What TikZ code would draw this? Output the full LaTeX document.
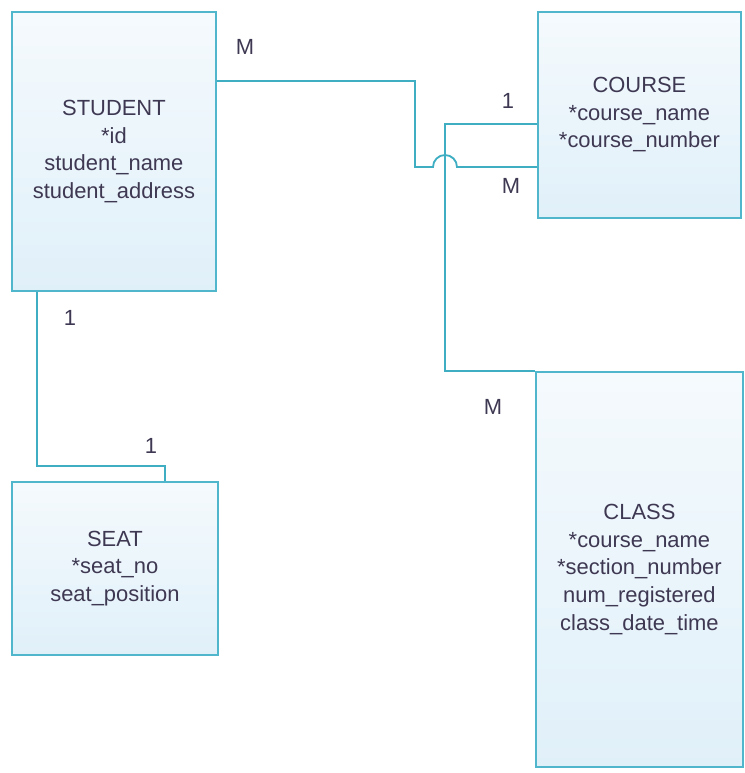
\documentclass[tikz,border=0pt]{standalone}
\usepackage{fontspec}
\setmainfont{Liberation Sans}
\usepackage{xcolor}
\usepackage{tikz}
\usetikzlibrary{calc,positioning}
\definecolor{edgec}{HTML}{4FB6CB}
\definecolor{linec}{HTML}{3FAEC2}
\definecolor{topc}{HTML}{F5FAFD}
\definecolor{botc}{HTML}{E0F0F9}
\definecolor{txtc}{HTML}{3E3852}
\tikzset{
  ent/.style={draw=edgec,line width=1.3pt,top color=topc,bottom color=botc,align=center,
    anchor=north west,inner sep=0pt,text=txtc,font=\fontsize{15.6}{19.6}\selectfont},
  lnk/.style={linec,line width=1.3pt},
  card/.style={text=txtc,font=\fontsize{15.6}{19.6}\selectfont,inner sep=1pt}
}

\begin{document}
\begin{tikzpicture}[x=0.025cm,y=-0.025cm]
\useasboundingbox (0,0) rectangle (744,773);
% entities
\node[ent,minimum width=5.1cm,minimum height=6.975cm] (student) at (11,11)
  {STUDENT\\*id\\student\_name\\student\_address};
\node[ent,minimum width=5.075cm,minimum height=5.15cm] (course) at (537,11)
  {COURSE\\*course\_name\\*course\_number};
\node[ent,minimum width=5.15cm,minimum height=4.325cm] (seat) at (11,481)
  {SEAT\\*seat\_no\\seat\_position};
\node[ent,minimum width=5.175cm,minimum height=9.875cm] (class) at (535,371)
  {CLASS\\*course\_name\\*section\_number\\num\_registered\\class\_date\_time};
% relationships
\draw[lnk] (student.east|-0,81) -- (415,81) -- (415,167) -- (433,167)
  arc[start angle=180,end angle=0,radius=0.3cm] -- (course.west|-0,167);
\draw[lnk] (course.west|-0,124) -- (445,124) -- (445,371) -- (class.north west);
\draw[lnk] (student.south-|37,0) -- (37,466) -- (165,466) -- (seat.north-|165,0);
% cardinalities
\node[card] (m1) at (245,47) {M};
\node[card] (c1) at (508,101) {1};
\node[card] (m2) at (511,186) {M};
\node[card] (c2) at (70,318) {1};
\node[card] (c3) at (151,446) {1};
\node[card] (m3) at (493,407) {M};
\end{tikzpicture}
\end{document}
